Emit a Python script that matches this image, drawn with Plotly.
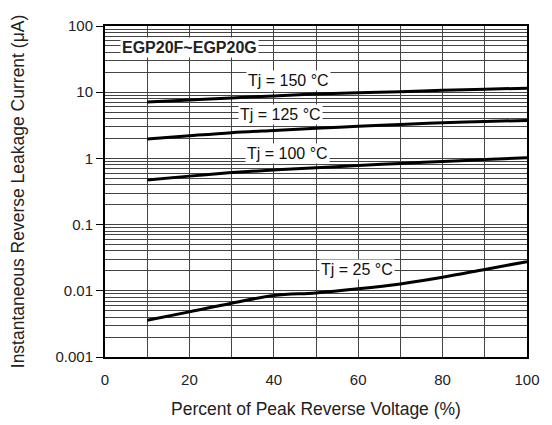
import math
import plotly.graph_objects as go

voltage_pct = [10, 20, 30, 40, 50, 60, 70, 80, 90, 100]
i_150 = [7.1, 7.6, 8.2, 8.8, 9.4, 9.8, 10.2, 10.7, 11.1, 11.5]
i_125 = [1.96, 2.2, 2.45, 2.65, 2.85, 3.05, 3.25, 3.45, 3.6, 3.75]
i_100 = [0.47, 0.54, 0.61, 0.67, 0.72, 0.78, 0.84, 0.9, 0.96, 1.02]
i_25 = [0.0036, 0.0048, 0.0065, 0.0085, 0.0093, 0.0107, 0.0127, 0.016, 0.021, 0.0276]

series = [("150", i_150), ("125", i_125), ("100", i_100), ("25", i_25)]
label_text = ["Tj = 150 °C", "Tj = 125 °C", "Tj = 100 °C", "Tj = 25 °C"]
label_x = [43.5, 41.6, 43.2, 59.8]
label_y = [15.0, 4.65, 1.19, 0.0212]
title_box = ("<b>EGP20F~EGP20G</b>", 20.0, 47.0)

y_tickvals = [0.001, 0.01, 0.1, 1, 10, 100]
y_ticktext = ["0.001", "0.01", "0.1", "1", "10", "100"]

font = "Liberation Sans, Arial, Helvetica, sans-serif"
fig = go.Figure()
for name, vals in series:
    fig.add_trace(go.Scatter(x=voltage_pct, y=vals, mode="lines",
                             line=dict(color="black", width=3), line_shape="spline",
                             name=name, showlegend=False))

for text, x, y in zip(label_text, label_x, label_y):
    fig.add_annotation(x=x, y=math.log10(y), text=text, showarrow=False,
                       bgcolor="white", font=dict(family=font, size=16, color="#111"),
                       borderpad=1)

fig.add_annotation(x=title_box[1], y=math.log10(title_box[2]), text=title_box[0], showarrow=False,
                   bgcolor="white", font=dict(family=font, size=16, color="#222"), borderpad=1)

grid_c = "#444"
fig.update_xaxes(range=[0, 100], dtick=20, tick0=0, showgrid=True, gridcolor=grid_c, gridwidth=1,
                 minor=dict(dtick=10, tick0=0, showgrid=True, gridcolor=grid_c, gridwidth=1),
                 showline=True, linecolor="black", linewidth=2, mirror=True, ticks="",
                 ticklabelstandoff=8,
                 tickfont=dict(family=font, size=15, color="#222"),
                 title=dict(text="Percent of Peak Reverse Voltage (%)",
                            font=dict(family=font, size=17.5, color="#222"), standoff=16),
                 zeroline=False)
fig.update_yaxes(type="log", range=[-3, 2], tickvals=y_tickvals, ticktext=y_ticktext,
                 showgrid=True, gridcolor=grid_c, gridwidth=1,
                 minor=dict(dtick="D1", showgrid=True, gridcolor=grid_c, gridwidth=1, ticks=""),
                 showline=True, linecolor="black", linewidth=2, mirror=True,
                 ticks="outside", ticklen=7, tickcolor="black",
                 tickfont=dict(family=font, size=15, color="#222"),
                 title=dict(text="Instantaneous Reverse Leakage Current (μA)",
                            font=dict(family=font, size=17.5, color="#222"), standoff=26),
                 zeroline=False)
fig.update_layout(width=544, height=417, margin=dict(l=96, r=25, t=9, b=61),
                  plot_bgcolor="white", paper_bgcolor="white")
fig.write_html("out.html")
